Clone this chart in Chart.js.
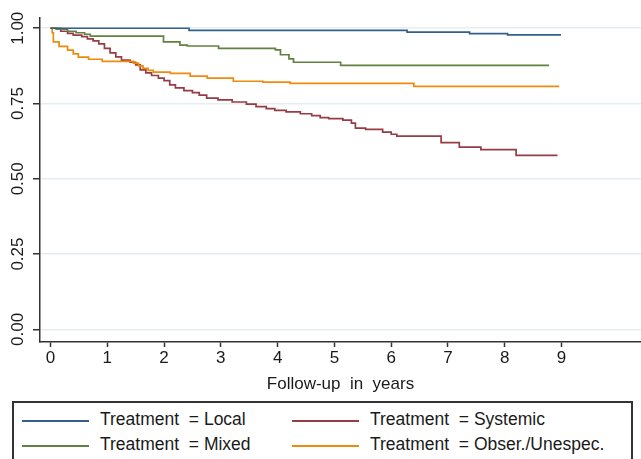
<!DOCTYPE html>
<html>
<head>
<meta charset="utf-8">
<script src="https://cdn.jsdelivr.net/npm/chart.js@4.4.1/dist/chart.umd.min.js"></script>
<style>
  body { margin: 0; background: #fff; overflow: hidden; }
  #wrap { position: relative; width: 641px; height: 459px; }
  #legend {
    position: absolute; left: 12px; top: 401px; width: 621px; height: 80px;
    border: 2px solid #333; box-sizing: border-box;
    font-family: 'Liberation Sans', Arial, sans-serif; font-size: 17.5px; color: #1a1a1a;
  }
  .item { position: absolute; height: 20px; white-space: pre; }
  .item .ln { position: absolute; left: 0; top: 9px; width: 67px; height: 1.5px; }
  .item .tx { position: absolute; left: 78px; top: -2px; line-height: 20px; }
</style>
</head>
<body>
<div id="wrap">
  <canvas id="km" width="641" height="398"></canvas>
  <div id="legend"></div>
</div>
<script>
console.log("km chart loaded");

// x ticks and y ticks
const xTicks = [0, 1, 2, 3, 4, 5, 6, 7, 8, 9];
const yTicks = [0, 0.25, 0.5, 0.75, 1];
const yLabels = ['0.00', '0.25', '0.50', '0.75', '1.00'];

// Treatment = Local
const localTime = [0, 2.44, 6.28, 7.38, 8.05, 8.99];
const localSurv = [1.0, 0.993, 0.987, 0.982, 0.978, 0.978];

// Treatment = Systemic
const systemicTime = [0, 0.18, 0.30, 0.40, 0.55, 0.65, 0.75, 0.85, 0.95, 1.05, 1.15, 1.25, 1.40, 1.50, 1.58, 1.68, 1.78, 1.90,
  2.00, 2.10, 2.20, 2.35, 2.50, 2.62, 2.75, 2.95, 3.20, 3.45, 3.62, 3.80, 3.95, 4.15, 4.40, 4.60, 4.75, 4.90, 5.15, 5.30,
  5.37, 5.55, 5.85, 6.00, 6.10, 6.88, 7.20, 7.58, 8.20, 8.93];
const systemicSurv = [1.0, 0.99, 0.983, 0.977, 0.972, 0.965, 0.958, 0.948, 0.933, 0.918, 0.905, 0.894, 0.887, 0.878, 0.862, 0.852, 0.843, 0.834,
  0.826, 0.812, 0.802, 0.793, 0.786, 0.778, 0.768, 0.762, 0.755, 0.748, 0.740, 0.733, 0.727, 0.722, 0.716, 0.710, 0.703, 0.700, 0.695, 0.685,
  0.668, 0.664, 0.655, 0.648, 0.642, 0.620, 0.605, 0.597, 0.578, 0.578];

// Treatment = Mixed
const mixedTime = [0, 0.10, 0.30, 0.45, 0.60, 0.70, 1.99, 2.28, 2.41, 2.96, 3.96, 4.05, 4.20, 4.28, 5.11, 8.78];
const mixedSurv = [1.0, 0.997, 0.99, 0.985, 0.98, 0.974, 0.955, 0.944, 0.941, 0.933, 0.928, 0.912, 0.898, 0.887, 0.877, 0.877];

// Treatment = Obser./Unespec.
const obserTime = [0, 0.03, 0.05, 0.15, 0.30, 0.40, 0.49, 0.67, 0.91, 1.46, 1.55, 1.63, 1.72, 1.81, 2.11, 2.46, 2.76, 3.22, 3.74, 4.22, 6.40, 8.96];
const obserSurv = [1.0, 0.985, 0.955, 0.94, 0.927, 0.915, 0.904, 0.897, 0.890, 0.884, 0.875, 0.867, 0.860, 0.854, 0.850, 0.841, 0.834, 0.824, 0.821, 0.817, 0.807, 0.807];

const seriesNames = ['Treatment  = Local', 'Treatment  = Systemic', 'Treatment  = Mixed', 'Treatment  = Obser./Unespec.'];
const seriesColors = ['#33608a', '#963c44', '#628140', '#ee8a0c'];

const toPoints = (t, s) => t.map((x, i) => ({ x: x, y: s[i] }));
const FONT = "'Liberation Sans', Arial, sans-serif";

const yLabelPlugin = {
  id: 'yLabels',
  afterDraw(chart) {
    const ctx = chart.ctx;
    const y = chart.scales.y;
    ctx.save();
    ctx.font = '17px ' + FONT;
    ctx.fillStyle = '#1a1a1a';
    ctx.textAlign = 'center';
    ctx.textBaseline = 'middle';
    yTicks.forEach((v, i) => {
      ctx.save();
      ctx.translate(18.5, y.getPixelForValue(v));
      ctx.rotate(-Math.PI / 2);
      ctx.fillText(yLabels[i], 0, 0);
      ctx.restore();
    });
    ctx.restore();
  }
};

document.addEventListener("DOMContentLoaded", () => {
  const ctx = document.getElementById('km').getContext('2d');
  const makeSet = (name, t, s, color) => ({
    label: name,
    data: toPoints(t, s),
    borderColor: color,
    borderWidth: 1.7,
    stepped: true,
    pointRadius: 0,
    fill: false
  });

  new Chart(ctx, {
    type: 'line',
    data: {
      datasets: [
        makeSet(seriesNames[0], localTime, localSurv, seriesColors[0]),
        makeSet(seriesNames[2], mixedTime, mixedSurv, seriesColors[2]),
        makeSet(seriesNames[3], obserTime, obserSurv, seriesColors[3]),
        makeSet(seriesNames[1], systemicTime, systemicSurv, seriesColors[1])
      ]
    },
    options: {
      responsive: false,
      animation: false,
      layout: { padding: { top: 18, right: 0, left: 0, bottom: 0 } },
      plugins: { legend: { display: false }, tooltip: { enabled: false } },
      scales: {
        x: {
          type: 'linear',
          min: -0.185,
          max: 10.4,
          afterBuildTicks: s => { s.ticks = xTicks.map(v => ({ value: v })); },
          afterFit: s => { s.height = 56; },
          grid: { drawOnChartArea: false, drawTicks: true, tickLength: 5, tickColor: '#333', tickWidth: 1.5 },
          border: { color: '#333', width: 1.5 },
          ticks: { font: { family: FONT, size: 17 }, color: '#1a1a1a', padding: 1, maxRotation: 0 },
          title: { display: true, text: 'Follow-up  in  years', font: { family: FONT, size: 17 }, color: '#1a1a1a', padding: { top: 0, bottom: 3 } }
        },
        y: {
          type: 'linear',
          min: -0.042,
          max: 1.034,
          afterBuildTicks: s => { s.ticks = yTicks.map(v => ({ value: v })); },
          afterFit: s => { s.width = 40; },
          grid: { color: '#e6eef1', lineWidth: 1.5, drawTicks: true, tickLength: 7, tickColor: '#333', tickWidth: 1.5 },
          border: { color: '#333', width: 1.5 },
          ticks: { display: false }
        }
      }
    },
    plugins: [yLabelPlugin]
  });

  // legend box, two columns
  const legend = document.getElementById('legend');
  const spots = [[8, 8], [278, 8], [8, 33], [278, 33]];
  seriesNames.forEach((name, i) => {
    const it = document.createElement('div');
    it.className = 'item';
    it.style.left = spots[i][0] + 'px';
    it.style.top = spots[i][1] + 'px';
    it.innerHTML = '<div class="ln" style="background:' + seriesColors[i] + '"></div><div class="tx">' + name + '</div>';
    legend.appendChild(it);
  });
});
</script>
</body>
</html>
